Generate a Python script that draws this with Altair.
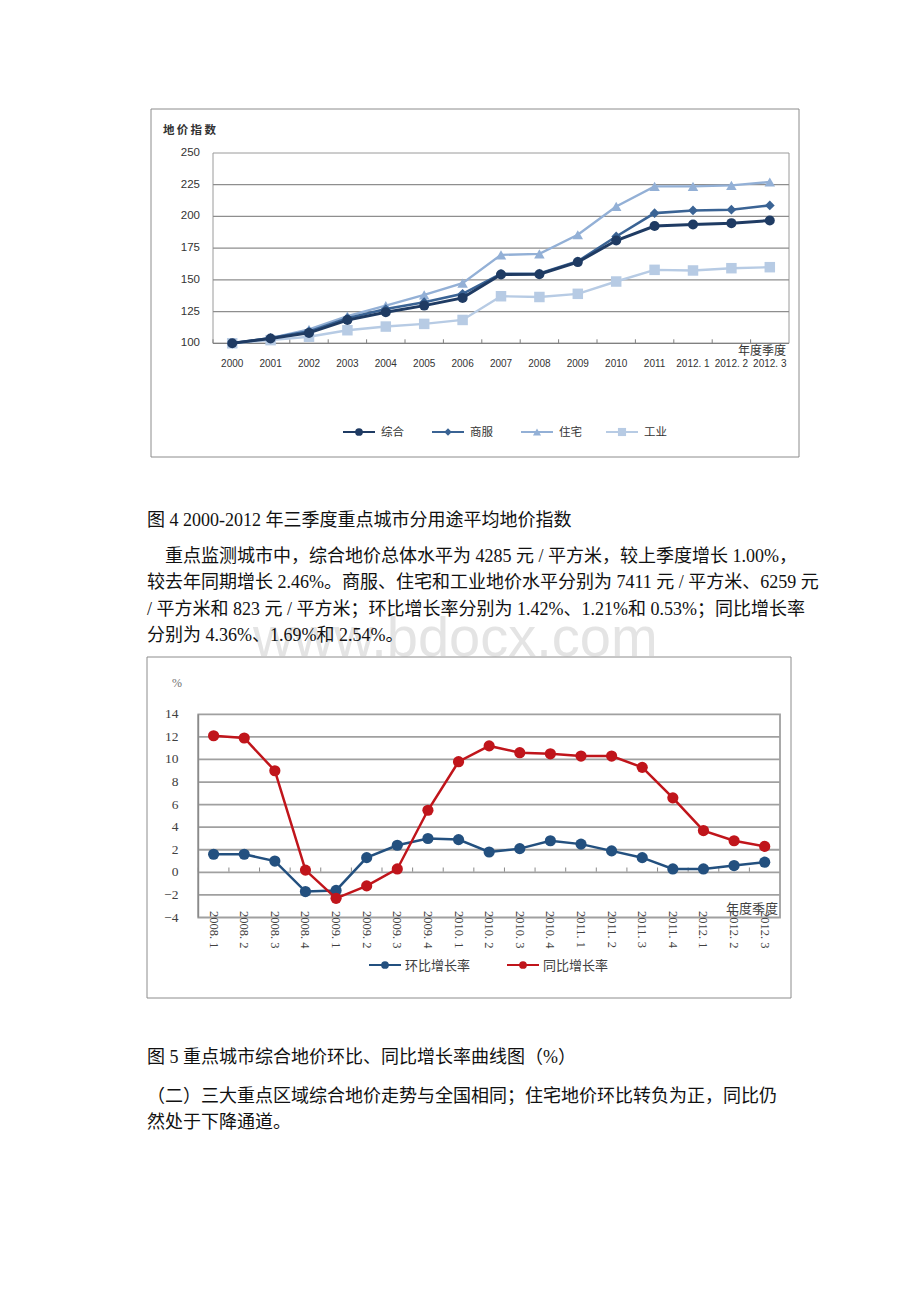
import altair as alt
import pandas as pd

# ---------------- data ----------------
years = ["2000", "2001", "2002", "2003", "2004", "2005", "2006", "2007", "2008",
         "2009", "2010", "2011", "2012. 1", "2012. 2", "2012. 3"]
series1 = ["综合", "商服", "住宅", "工业"]
zonghe = [100, 103.8, 108.2, 118.3, 124.5, 129.7, 135.8, 154.2, 154.4, 164.0, 181.0, 192.4, 193.7, 194.7, 196.8]
shangfu = [100, 104.2, 109.4, 119.8, 127.0, 132.4, 139.0, 154.8, 155.0, 164.6, 184.2, 202.6, 204.7, 205.3, 208.7]
zhuzhai = [100, 104.0, 111.0, 121.5, 129.7, 138.2, 147.4, 169.7, 170.5, 185.5, 207.9, 223.7, 223.7, 224.5, 227.1]
gongye = [100, 102.5, 105.2, 110.3, 113.2, 115.3, 118.4, 137.1, 136.5, 139.0, 148.7, 157.9, 157.4, 159.2, 160.0]
y1_ticks = [100, 125, 150, 175, 200, 225, 250]
y1_grid = [125, 150, 175, 200, 225]

quarters = ["2008. 1", "2008. 2", "2008. 3", "2008. 4", "2009. 1", "2009. 2", "2009. 3", "2009. 4",
            "2010. 1", "2010. 2", "2010. 3", "2010. 4", "2011. 1", "2011. 2", "2011. 3", "2011. 4",
            "2012. 1", "2012. 2", "2012. 3"]
series2 = ["环比增长率", "同比增长率"]
huanbi = [1.6, 1.6, 1.0, -1.7, -1.6, 1.3, 2.4, 3.0, 2.9, 1.8, 2.1, 2.8, 2.5, 1.9, 1.3, 0.3, 0.3, 0.6, 0.9]
tongbi = [12.1, 11.9, 9.0, 0.2, -2.3, -1.2, 0.3, 5.5, 9.8, 11.2, 10.6, 10.5, 10.3, 10.3, 9.3, 6.6, 3.7, 2.8, 2.3]
y2_ticks = [-4, -2, 0, 2, 4, 6, 8, 10, 12, 14]
y2_grid = [-2, 0, 2, 4, 6, 8, 10, 12]

title1 = "地\u2009价\u2009指\u2009数"
xtitle = "年度季度"
caption1 = "图 4 2000-2012 年三季度重点城市分用途平均地价指数"
para1 = [
    "重点监测城市中，综合地价总体水平为 4285 元 / 平方米，较上季度增长 1.00%，",
    "较去年同期增长 2.46%。商服、住宅和工业地价水平分别为 7411 元 / 平方米、6259 元",
    "/ 平方米和 823 元 / 平方米；环比增长率分别为 1.42%、1.21%和 0.53%；同比增长率",
    "分别为 4.36%、1.69%和 2.54%。",
]
caption2 = "图 5 重点城市综合地价环比、同比增长率曲线图（%）"
para2 = [
    "（二）三大重点区域综合地价走势与全国相同；住宅地价环比转负为正，同比仍",
    "然处于下降通道。",
]
watermark = "www.bdocx.com"

# ---------------- layout (page px) ----------------
OFF = 8
W, H = 904, 1286
SANS = "'Liberation Sans', 'Noto Sans CJK SC', sans-serif"
SERIF = "'Liberation Serif', 'Noto Sans CJK SC', serif"
CJK = "'Noto Sans CJK SC', sans-serif"

P1 = dict(l=213, r=789, t=153, b=343.3)
P2 = dict(l=198.3, r=780, t=714.3, b=917.5)


def c(v):
    return v - OFF


layers = []


def text(s, x, y, size, font, color="#000000", align="left", baseline="middle", angle=0, weight="normal"):
    return alt.Chart(pd.DataFrame({"t": [s]})).mark_text(
        align=align, baseline=baseline, fontSize=size, font=font, color=color,
        angle=angle, fontWeight=weight
    ).encode(x=alt.value(c(x)), y=alt.value(c(y)), text="t:N")


def box(x0, y0, x1, y1, color, sw=1):
    return alt.Chart(pd.DataFrame({"a": [0]})).mark_rect(
        fill="transparent", stroke=color, strokeWidth=sw
    ).encode(x=alt.value(c(x0)), x2=alt.value(c(x1)), y=alt.value(c(y0)), y2=alt.value(c(y1)))


# watermark (behind)
layers.append(text(watermark, 253, 656, 56, SANS, color="#E4E4E4", baseline="alphabetic"))

# ================= Chart 1 =================
sx1 = alt.Scale(type="point", domain=years, range=[c(P1["l"]), c(P1["r"])], padding=0.5)
bx1 = alt.Scale(type="band", domain=years, range=[c(P1["l"]), c(P1["r"])], paddingInner=0, paddingOuter=0)
sy1 = alt.Scale(domain=[100, 250], range=[c(P1["b"]), c(P1["t"])], nice=False, zero=False)

layers.append(box(151, 109, 799, 457, "#8C8C8C"))
layers.append(box(P1["l"], P1["t"], P1["r"], P1["b"], "#9A9A9A"))

g1 = pd.DataFrame({"v": y1_grid})
layers.append(alt.Chart(g1).mark_rule(color="#8E8E8E", strokeWidth=1.2).encode(
    y=alt.Y("v:Q", scale=sy1, axis=None), x=alt.value(c(P1["l"])), x2=alt.value(c(P1["r"]))))
# x axis line
layers.append(alt.Chart(pd.DataFrame({"v": [100]})).mark_rule(color="#808080", strokeWidth=1.2).encode(
    y=alt.Y("v:Q", scale=sy1, axis=None), x=alt.value(c(P1["l"])), x2=alt.value(c(P1["r"]))))
# ticks
yd1 = pd.DataFrame({"year": years})
layers.append(alt.Chart(yd1).mark_rule(color="#808080", strokeWidth=1).encode(
    x=alt.X("year:O", scale=bx1, axis=None, bandPosition=0),
    y=alt.value(c(P1["b"])), y2=alt.value(c(P1["b"] - 4))))
# y labels
layers.append(alt.Chart(pd.DataFrame({"v": y1_ticks})).mark_text(
    align="right", baseline="middle", fontSize=11.5, font=SANS, color="#333333").encode(
    y=alt.Y("v:Q", scale=sy1, axis=None), x=alt.value(c(200)), text="v:Q"))
# x labels
layers.append(alt.Chart(yd1).mark_text(
    align="center", baseline="middle", fontSize=10, font=SANS, color="#333333").encode(
    x=alt.X("year:O", scale=sx1, axis=None), y=alt.value(c(364)), text="year:N"))
layers.append(text(title1, 163, 130.5, 11.5, CJK, color="#333333", weight="bold"))
layers.append(text(xtitle, 786, 351, 12, CJK, color="#333333", align="right"))

specs1 = [
    ("住宅", zhuzhai, "#93B0D6", "triangle-up", 110, 2.4),
    ("工业", gongye, "#B7CBE4", "square", 110, 2.4),
    ("商服", shangfu, "#3A6394", "diamond", 95, 2.6),
    ("综合", zonghe, "#1F3B63", "circle", 100, 3.0),
]
for name, vals, color, shape, size, sw in specs1:
    d = pd.DataFrame({"year": years, "v": vals})
    base = alt.Chart(d).encode(x=alt.X("year:O", scale=sx1, axis=None),
                               y=alt.Y("v:Q", scale=sy1, axis=None))
    layers.append(base.mark_line(color=color, strokeWidth=sw))
    layers.append(base.mark_point(shape=shape, size=size, filled=True, color=color, opacity=1))

# legend 1
leg1 = {"综合": 359, "商服": 448, "住宅": 537, "工业": 622}
for name, vals, color, shape, size, sw in specs1:
    m = leg1[name]
    layers.append(alt.Chart(pd.DataFrame({"a": [0]})).mark_rule(color=color, strokeWidth=2).encode(
        x=alt.value(c(m - 16)), x2=alt.value(c(m + 16)), y=alt.value(c(432))))
    layers.append(alt.Chart(pd.DataFrame({"a": [0]})).mark_point(
        shape=shape, size=size * 0.6, filled=True, color=color, opacity=1).encode(
        x=alt.value(c(m)), y=alt.value(c(432))))
    layers.append(text(name, m + 22, 432.5, 11.5, CJK, color="#333333"))

# ================= text block 1 =================
BODY = 18
layers.append(text(caption1, 147, 521, BODY, SERIF, color="#111111"))
p1x = [165, 147, 147, 147]
p1y = [557, 583, 610, 636]
for s, x, y in zip(para1, p1x, p1y):
    layers.append(text(s, x, y, BODY, SERIF, color="#111111"))

# ================= Chart 2 =================
sx2 = alt.Scale(type="point", domain=quarters, range=[c(P2["l"]), c(P2["r"])], padding=0.5)
bx2 = alt.Scale(type="band", domain=quarters, range=[c(P2["l"]), c(P2["r"])], paddingInner=0, paddingOuter=0)
sy2 = alt.Scale(domain=[-4, 14], range=[c(P2["b"]), c(P2["t"])], nice=False, zero=False)

layers.append(box(147, 657, 791, 998, "#8C8C8C"))
g2 = pd.DataFrame({"v": y2_grid})
layers.append(alt.Chart(g2).mark_rule(color="#A0A0A0", strokeWidth=1.8).encode(
    y=alt.Y("v:Q", scale=sy2, axis=None), x=alt.value(c(P2["l"])), x2=alt.value(c(P2["r"]))))
layers.append(box(P2["l"], P2["t"], P2["r"], P2["b"], "#A0A0A0", 1.8))
layers.append(alt.Chart(pd.DataFrame({"a": [0]})).mark_rule(color="#8A8A8A", strokeWidth=1.5).encode(
    x=alt.value(c(P2["l"])), y=alt.value(c(P2["t"])), y2=alt.value(c(P2["b"]))))
qd = pd.DataFrame({"q": quarters})
layers.append(alt.Chart(qd).mark_rule(color="#8A8A8A", strokeWidth=1).encode(
    x=alt.X("q:O", scale=bx2, axis=None, bandPosition=0),
    y=alt.value(c(871.7)), y2=alt.value(c(867.5))))
layers.append(alt.Chart(pd.DataFrame({"v": y2_ticks})).mark_text(
    align="right", baseline="middle", fontSize=13.5, font=SERIF, color="#404040").encode(
    y=alt.Y("v:Q", scale=sy2, axis=None), x=alt.value(c(178.5)), text="v:Q"))
layers.append(alt.Chart(qd).mark_text(
    align="left", baseline="middle", angle=90, fontSize=12.5, font=SERIF, color="#404040").encode(
    x=alt.X("q:O", scale=sx2, axis=None), y=alt.value(c(911)), text="q:N"))
layers.append(text("%", 177, 683, 12, SERIF, color="#707070", align="center"))
layers.append(text(xtitle, 778, 909, 13, CJK, color="#404040", align="right"))

specs2 = [
    ("环比增长率", huanbi, "#23507F"),
    ("同比增长率", tongbi, "#C0151B"),
]
for name, vals, color in specs2:
    d = pd.DataFrame({"q": quarters, "v": vals})
    base = alt.Chart(d).encode(x=alt.X("q:O", scale=sx2, axis=None),
                               y=alt.Y("v:Q", scale=sy2, axis=None))
    layers.append(base.mark_line(color=color, strokeWidth=2.5))
    layers.append(base.mark_point(shape="circle", size=125, filled=True, color=color, opacity=1))

leg2 = {"环比增长率": 385, "同比增长率": 523}
for name, vals, color in specs2:
    m = leg2[name]
    layers.append(alt.Chart(pd.DataFrame({"a": [0]})).mark_rule(color=color, strokeWidth=2).encode(
        x=alt.value(c(m - 16)), x2=alt.value(c(m + 16)), y=alt.value(c(965))))
    layers.append(alt.Chart(pd.DataFrame({"a": [0]})).mark_point(
        shape="circle", size=60, filled=True, color=color, opacity=1).encode(
        x=alt.value(c(m)), y=alt.value(c(965))))
    layers.append(text(name, m + 20, 965.5, 13, CJK, color="#404040"))

# ================= text block 2 =================
layers.append(text(caption2, 147, 1058, BODY, SERIF, color="#111111"))
for s, y in zip(para2, [1097, 1123]):
    layers.append(text(s, 147, y, BODY, SERIF, color="#111111"))

chart = alt.layer(*layers).resolve_scale(x="independent", y="independent").properties(
    width=W, height=H, autosize=alt.AutoSizeParams(type="none"), padding=0
).configure_view(strokeWidth=0)

chart.save("out.html", embed_options={"renderer": "svg", "actions": False})
